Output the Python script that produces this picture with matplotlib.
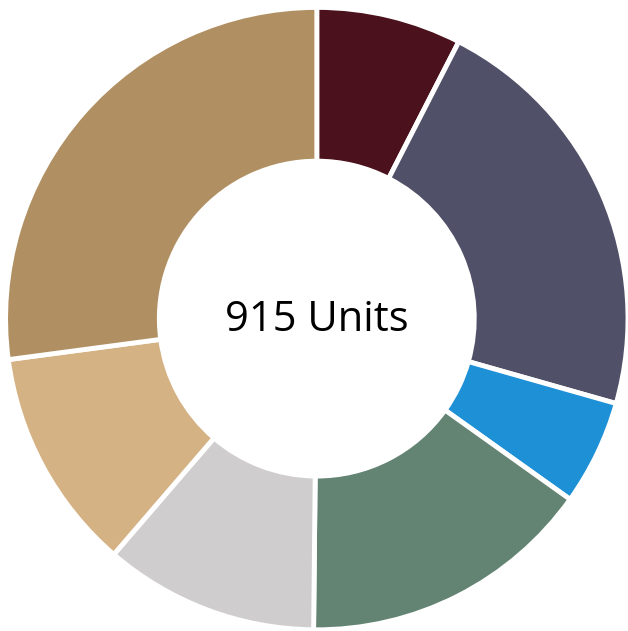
import matplotlib.pyplot as plt

labels = ['A', 'B', 'C', 'D', 'E', 'F', 'G']
units = [69, 200, 50, 140, 102, 106, 248]
colors = ['#4B111C', '#505068', '#1E90D6', '#648473', '#CFCDCE', '#D4B283', '#B09062']

fig = plt.figure(figsize=(6.28, 6.31), dpi=100)
ax = fig.add_axes([0, 0, 1, 1])
ax.pie(units, colors=colors, startangle=90, counterclock=False, radius=1.0,
       wedgeprops=dict(width=0.494, edgecolor='white', linewidth=3.5))
ax.text(0, -0.005, f'{sum(units)} Units', ha='center', va='center', fontsize=30,
        family='Open Sans')
ax.set_xlim(-1.018, 1.0)
ax.set_ylim(-1.0, 1.02)
ax.set_aspect('equal')
ax.axis('off')
fig.savefig('out.png', dpi=100)
